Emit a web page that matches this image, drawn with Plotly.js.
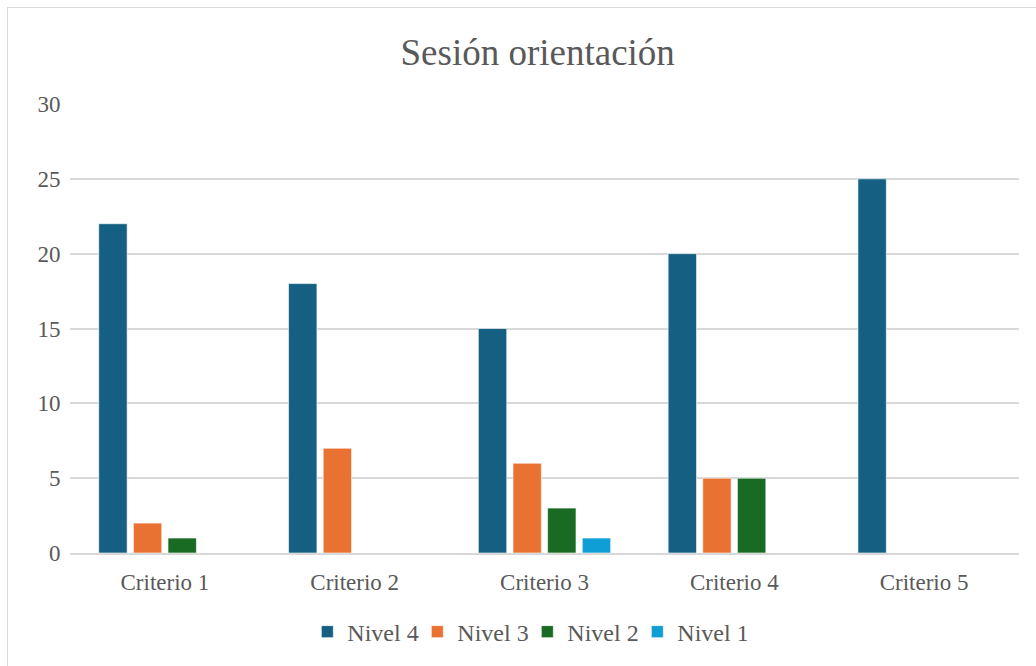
<!DOCTYPE html>
<html>
<head>
<meta charset="utf-8">
<script src="https://cdn.plot.ly/plotly-3.0.1.min.js"></script>
<style>
html,body{margin:0;padding:0;background:#fff;}
#wrap{position:relative;width:1036px;height:666px;overflow:hidden;}
#chart{position:absolute;left:0;top:0;width:1036px;height:666px;}
#frame{position:absolute;left:7px;top:7px;width:1040px;height:680px;border:1.5px solid #d9d9d9;box-sizing:border-box;pointer-events:none;}
</style>
</head>
<body>
<div id="wrap"><div id="chart"></div><div id="frame"></div></div>
<script>
const categories = ["Criterio 1", "Criterio 2", "Criterio 3", "Criterio 4", "Criterio 5"];
const nivel4 = [22, 18, 15, 20, 25];
const nivel3 = [2, 7, 6, 5, 0];
const nivel2 = [1, 0, 3, 5, 0];
const nivel1 = [0, 0, 1, 0, 0];
const seriesNames = ["Nivel 4", "Nivel 3", "Nivel 2", "Nivel 1"];
const seriesValues = [nivel4, nivel3, nivel2, nivel1];
const colors = ["#156082", "#E97132", "#196B24", "#0F9ED5"];

const traces = seriesNames.map((n, i) => ({
  type: "bar", name: n, x: categories, y: seriesValues[i],
  marker: {color: colors[i], line: {color: "rgba(255,255,255,0.6)", width: 1}},
  hoverinfo: "x+y+name"
}));

const font = "'Liberation Serif', 'Times New Roman', serif";
const layout = {
  width: 1036, height: 666,
  margin: {l: 70, r: 17, t: 104, b: 113},
  paper_bgcolor: "rgba(0,0,0,0)", plot_bgcolor: "#fff",
  font: {family: font, color: "#595959", size: 23},
  title: {text: "Sesión orientación", font: {family: font, size: 37, color: "#595959"}, xref: "container", x: 0.519, xanchor: "center", yref: "container", y: 0.922, yanchor: "middle"},
  barmode: "group", bargap: 0.27, bargroupgap: 0.18,
  xaxis: {tickfont: {size: 23, color: "#595959"}, showline: true, linecolor: "#d9d9d9", linewidth: 1.5, ticks: "outside", ticklen: 8, tickcolor: "rgba(0,0,0,0)", fixedrange: true, automargin: false},
  yaxis: {range: [0, 30], dtick: 5, tickfont: {size: 23, color: "#595959"}, gridcolor: "#d9d9d9", gridwidth: 1.5, zeroline: false, ticks: "outside", ticklen: 4, tickcolor: "rgba(0,0,0,0)", fixedrange: true, automargin: false},
  legend: {orientation: "h", x: 0.509, xref: "container", xanchor: "center", yref: "container", y: 0.051, yanchor: "middle", font: {size: 24, color: "#595959"}, itemwidth: 30, entrywidth: 65, entrywidthmode: "pixels"},
  showlegend: true
};
Plotly.newPlot("chart", traces, layout, {displayModeBar: false});
</script>
</body>
</html>
